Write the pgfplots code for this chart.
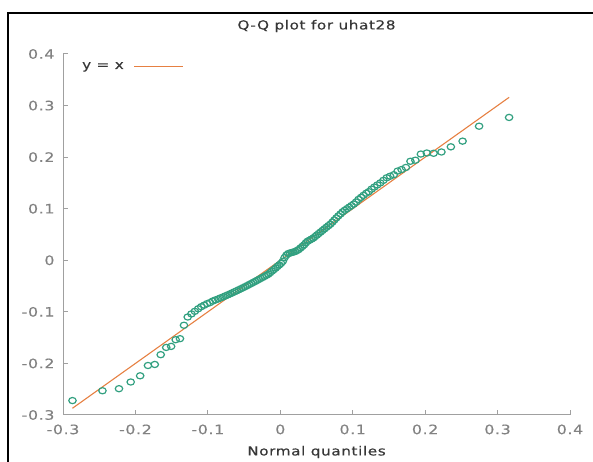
\documentclass[border=0pt]{standalone}
\usepackage{fontspec}
\setmainfont{DejaVu Sans}[FakeStretch=1.22,LetterSpace=5,FakeBold=0.4]
\usepackage{pgfplots}
\usepackage{pgfplotstable}
\pgfplotsset{compat=1.18}

\definecolor{qqgreen}{RGB}{50,160,128}
\definecolor{qqorange}{RGB}{230,128,66}
\definecolor{axgray}{RGB}{160,160,160}
\definecolor{lblgray}{RGB}{130,130,130}
\definecolor{txtdark}{RGB}{55,55,55}

% normal quantile vs sorted residual
\pgfplotstableread{
x y
-0.2869 -0.272
-0.2455 -0.253
-0.2227 -0.249
-0.2065 -0.236
-0.1935 -0.224
-0.1827 -0.204
-0.1733 -0.202
-0.1651 -0.183
-0.1575 -0.169
-0.1507 -0.167
-0.1444 -0.154
-0.1385 -0.152
-0.1330 -0.126
-0.1278 -0.110
-0.1227 -0.104
-0.1180 -0.099
-0.1134 -0.094
-0.1091 -0.090
-0.1050 -0.087
-0.1009 -0.084
-0.0970 -0.082
-0.0932 -0.079
-0.0896 -0.077
-0.0859 -0.075
-0.0825 -0.073
-0.0790 -0.071
-0.0757 -0.069
-0.0725 -0.067
-0.0692 -0.065
-0.0662 -0.063
-0.0631 -0.061
-0.0601 -0.059
-0.0571 -0.057
-0.0542 -0.055
-0.0512 -0.053
-0.0484 -0.051
-0.0456 -0.049
-0.0429 -0.047
-0.0401 -0.045
-0.0374 -0.043
-0.0347 -0.041
-0.0321 -0.039
-0.0294 -0.037
-0.0268 -0.035
-0.0242 -0.033
-0.0216 -0.031
-0.0190 -0.029
-0.0165 -0.027
-0.0140 -0.024
-0.0115 -0.021
-0.0089 -0.018
-0.0064 -0.015
-0.0040 -0.012
-0.0015 -0.009
0.0010 -0.006
0.0034 -0.002
0.0059 0.005
0.0084 0.010
0.0109 0.013
0.0133 0.014
0.0157 0.015
0.0181 0.016
0.0206 0.017
0.0231 0.019
0.0256 0.021
0.0280 0.024
0.0305 0.027
0.0330 0.030
0.0354 0.034
0.0379 0.037
0.0405 0.039
0.0430 0.041
0.0455 0.043
0.0480 0.046
0.0506 0.049
0.0532 0.052
0.0558 0.055
0.0584 0.058
0.0611 0.061
0.0637 0.064
0.0664 0.067
0.0691 0.070
0.0719 0.074
0.0746 0.078
0.0774 0.082
0.0802 0.086
0.0832 0.090
0.0861 0.094
0.0891 0.097
0.0921 0.100
0.0952 0.103
0.0982 0.106
0.1015 0.109
0.1047 0.113
0.1080 0.118
0.1115 0.122
0.1149 0.126
0.1186 0.130
0.1222 0.133
0.1260 0.138
0.1299 0.142
0.1340 0.146
0.1381 0.150
0.1424 0.155
0.1470 0.160
0.1517 0.163
0.1568 0.166
0.1620 0.173
0.1675 0.176
0.1734 0.180
0.1797 0.192
0.1865 0.194
0.1941 0.206
0.2023 0.208
0.2117 0.2075
0.2225 0.210
0.2355 0.220
0.2517 0.231
0.2745 0.260
0.3159 0.277
}\qqdata

\begin{document}
\begin{tikzpicture}[x=1bp,y=1bp]
\useasboundingbox (0,0) rectangle (593,462);
\draw[line width=2bp] (8,0) -- (8,449) -- (593,449);
\begin{axis}[
  at={(63bp,47bp)}, anchor=south west,
  scale only axis, width=507bp, height=361bp,
  xmin=-0.3, xmax=0.4, ymin=-0.3, ymax=0.4,
  axis x line*=bottom, axis y line*=left,
  axis line style={axgray, line width=1bp},
  xtick={-0.3,-0.2,-0.1,0,0.1,0.2,0.3,0.4},
  ytick={-0.3,-0.2,-0.1,0,0.1,0.2,0.3,0.4},
  tick align=inside, major tick length=5bp,
  tick style={axgray, line width=1bp},
  /pgf/number format/assume math mode=true,
  /pgf/number format/fixed, /pgf/number format/precision=1,
  ticklabel style={font=\fontsize{13}{15}\selectfont, text=lblgray},
  xticklabel style={yshift=-6bp},
  yticklabel style={xshift=-5bp},
  title={Q-Q plot for uhat28},
  title style={at={(axis description cs:0.5,1)}, anchor=center, yshift=22bp,
    font=\fontsize{12.5}{14}\selectfont, text=txtdark},
  xlabel={Normal quantiles},
  xlabel style={at={(axis description cs:0.5,0)}, anchor=center, yshift=-37bp,
    font=\fontsize{12.5}{14}\selectfont, text=txtdark},
  legend style={at={(axis description cs:0,1)}, anchor=north west,
    xshift=14bp, yshift=-4bp, draw=none, fill=none, column sep=8bp,
    legend plot pos=right, font=\fontsize{12.5}{14}\selectfont, text=txtdark},
  legend image code/.code={\draw[#1] (0bp,0bp) -- (49bp,0bp);},
  clip=false,
]
\addplot[only marks, mark=o, mark size=3.1bp, qqgreen,
  mark options={line width=1.2bp, xscale=1.2}, forget plot]
  table {\qqdata};
\addplot[qqorange, line width=1.1bp] coordinates {(-0.287,-0.287) (0.316,0.316)};
\addlegendentry{y = x}
\end{axis}
\end{tikzpicture}
\end{document}
